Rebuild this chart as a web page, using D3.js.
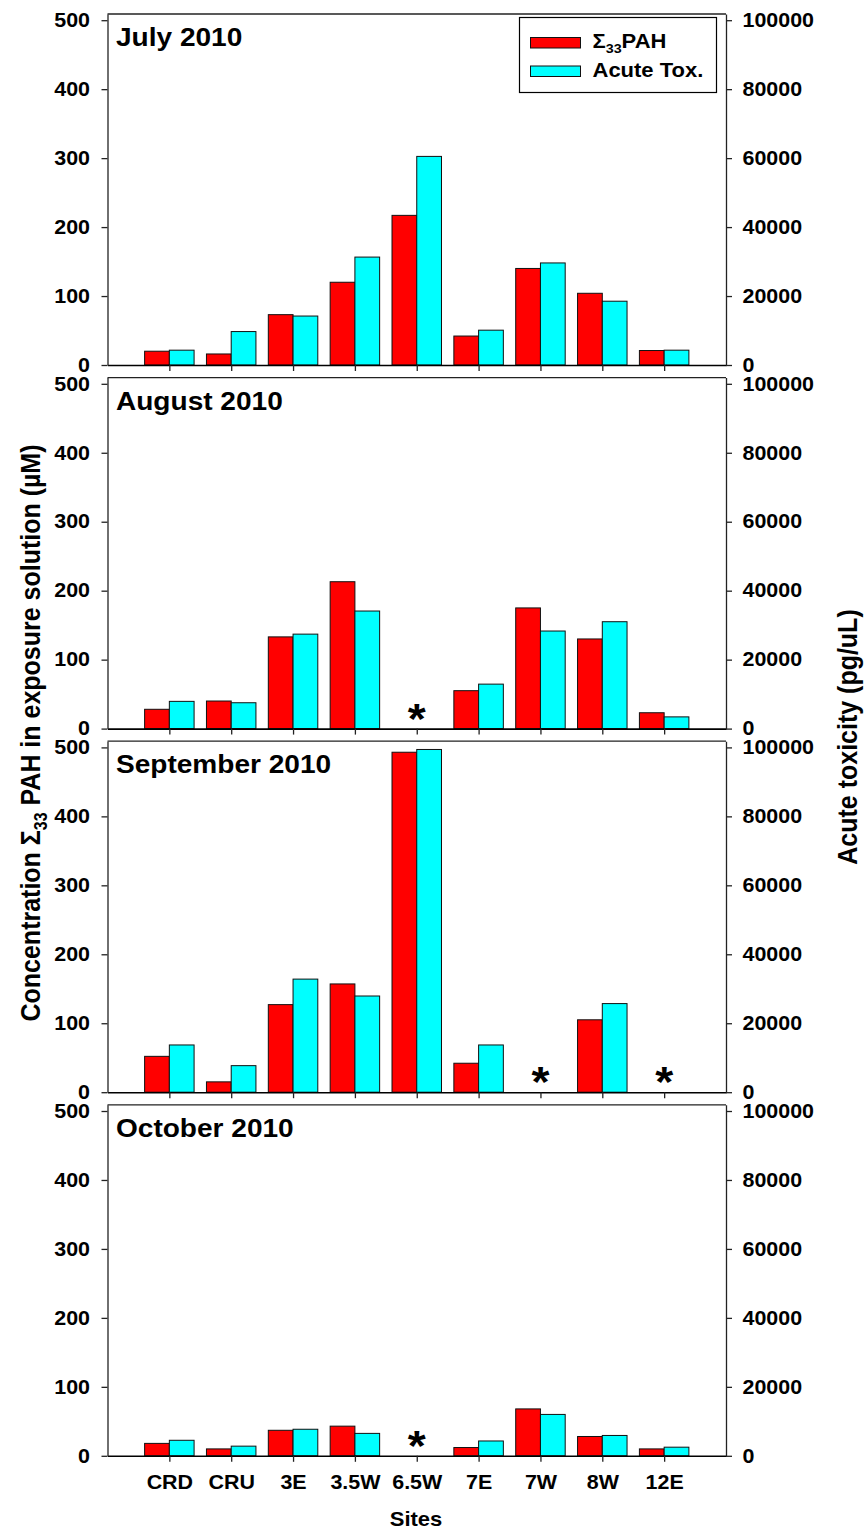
<!DOCTYPE html>
<html>
<head>
<meta charset="utf-8">
<script src="https://cdn.jsdelivr.net/npm/d3@7"></script>
<style>
body { margin: 0; background: #fff; }
text { font-family: "Liberation Sans", Arial, Helvetica, sans-serif; font-weight: bold; fill: #000; }
</style>
</head>
<body>
<div id="chart"></div>
<script>
// data (null = no sample, marked with *)
var sites = ["CRD", "CRU", "3E", "3.5W", "6.5W", "7E", "7W", "8W", "12E"];
var months = ["July 2010", "August 2010", "September 2010", "October 2010"];

var pahJul = [20, 16, 73, 120, 217, 42, 140, 104, 21];
var toxJul = [4300, 9700, 14200, 31300, 60500, 10100, 29600, 18500, 4300];
var pahAug = [28, 40, 133, 213, null, 55, 175, 130, 23];
var toxAug = [7900, 7500, 27400, 34100, null, 12900, 28300, 31000, 3400];
var pahSep = [52, 15, 127, 157, 493, 42, null, 105, null];
var toxSep = [13700, 7700, 32800, 27900, 99400, 13700, null, 25700, null];
var pahOct = [18, 10, 37, 43, null, 12, 68, 28, 10];
var toxOct = [4500, 2800, 7700, 6500, null, 4300, 12000, 5900, 2500];

var leftTicks = [0, 100, 200, 300, 400, 500];
var rightTicks = [0, 20000, 40000, 60000, 80000, 100000];
var seriesNames = ["PAH", "Acute Tox."];
var colors = ["#ff0000", "#00ffff"];

var panels = [
    { title: months[0], pah: pahJul, tox: toxJul },
    { title: months[1], pah: pahAug, tox: toxAug },
    { title: months[2], pah: pahSep, tox: toxSep },
    { title: months[3], pah: pahOct, tox: toxOct }
];

var width = 866, height = 1530;
var plotLeft = 107.5, plotRight = 726;
var panelTop = 14, panelStep = 363.6, panelH = 351;
var stretch = 1.1; // original lettering is a bit wide
var axisColor = "#222";

var svg = d3.select("#chart")
    .append("svg")
    .attr("width", width)
    .attr("height", height);

var x = d3.scaleLinear().domain([0, 10]).range([plotLeft, plotRight]);
var barW = x(0.4) - x(0);

function wide(sel) {
    sel.each(function() {
        var t = d3.select(this);
        var x0 = +t.attr("x") || 0;
        t.attr("x", x0 / stretch).attr("transform", "scale(" + stretch + ",1)");
    });
}

function styleAxis(a) {
    a.attr("font-family", null).attr("font-size", null);
    a.select(".domain").attr("stroke", axisColor).attr("stroke-width", 1.3);
    a.selectAll(".tick line").attr("stroke", axisColor).attr("stroke-width", 1.3);
}

panels.forEach(function(p, i) {
    var top = panelTop + i * panelStep;
    var y = d3.scaleLinear().domain([0, 509]).range([top + panelH, top]);
    var yR = d3.scaleLinear().domain([0, 101800]).range([top + panelH, top]);
    var g = svg.append("g");

    var rows = sites.map(function(s, j) {
        return { site: s, idx: j + 1, pah: p.pah[j], tox: p.tox[j] };
    });

    g.selectAll(".pah")
        .data(rows.filter(function(d) { return d.pah != null; }))
        .enter()
        .append("rect")
        .attr("x", function(d) { return x(d.idx - 0.4); })
        .attr("y", function(d) { return y(d.pah); })
        .attr("width", barW)
        .attr("height", function(d) { return y(0) - y(d.pah); })
        .attr("fill", colors[0])
        .attr("stroke", "#111")
        .attr("stroke-width", 1);

    g.selectAll(".tox")
        .data(rows.filter(function(d) { return d.tox != null; }))
        .enter()
        .append("rect")
        .attr("x", function(d) { return x(d.idx); })
        .attr("y", function(d) { return yR(d.tox); })
        .attr("width", barW)
        .attr("height", function(d) { return yR(0) - yR(d.tox); })
        .attr("fill", colors[1])
        .attr("stroke", "#111")
        .attr("stroke-width", 1);

    // missing samples
    g.selectAll(".miss")
        .data(rows.filter(function(d) { return d.pah == null; }))
        .enter()
        .append("text")
        .attr("x", function(d) { return x(d.idx) / stretch; })
        .attr("y", y(0) + 4)
        .attr("transform", "scale(" + stretch + ",1)")
        .attr("text-anchor", "middle")
        .style("font-size", "42px")
        .text("*");

    // top of the frame
    g.append("line")
        .attr("x1", plotLeft).attr("x2", plotRight)
        .attr("y1", top).attr("y2", top)
        .attr("stroke", axisColor).attr("stroke-width", 1.3);

    var ax = g.append("g")
        .attr("transform", "translate(0," + y(0) + ")")
        .call(d3.axisBottom(x)
            .tickValues(d3.range(1, 10))
            .tickSize(6)
            .tickSizeOuter(0)
            .tickFormat(function(v) { return i == 3 ? sites[v - 1] : ""; }));
    styleAxis(ax);
    ax.select(".domain").attr("stroke", "#000").attr("stroke-width", 1.6);
    ax.selectAll("text").attr("y", 33).attr("dy", null).style("font-size", "19.5px").call(wide);

    var ay = g.append("g")
        .attr("transform", "translate(" + plotLeft + ",0)")
        .call(d3.axisLeft(y).tickValues(leftTicks).tickSize(6).tickSizeOuter(0));
    styleAxis(ay);
    ay.selectAll("text").attr("x", -17.5).style("font-size", "19.5px").call(wide);

    var ar = g.append("g")
        .attr("transform", "translate(" + plotRight + ",0)")
        .call(d3.axisRight(yR).tickValues(rightTicks).tickFormat(d3.format("d"))
            .tickSize(6).tickSizeOuter(0));
    styleAxis(ar);
    ar.selectAll("text").attr("x", 16.5).style("font-size", "19.5px").call(wide);

    g.append("text")
        .attr("x", 116 / stretch)
        .attr("y", top + 32)
        .attr("transform", "scale(" + stretch + ",1)")
        .style("font-size", "25.5px")
        .text(p.title);
});

// legend
var legend = svg.append("g");
legend.append("rect")
    .attr("x", 519.5).attr("y", 17.5)
    .attr("width", 197).attr("height", 75)
    .attr("fill", "#fff").attr("stroke", "#000").attr("stroke-width", 1.2);

seriesNames.forEach(function(name, k) {
    var ly = 37.5 + k * 28.5;
    legend.append("rect")
        .attr("x", 530.5).attr("y", ly)
        .attr("width", 50).attr("height", 10.5)
        .attr("fill", colors[k]).attr("stroke", "#111").attr("stroke-width", 1);
    var t = legend.append("text")
        .attr("x", 592.5 / stretch)
        .attr("y", ly + 11)
        .attr("transform", "scale(" + stretch + ",1)")
        .style("font-size", "20px");
    if (k == 0) {
        t.append("tspan").text("\u03a3");
        t.append("tspan").attr("dy", 5).style("font-size", "13px").text("33");
        t.append("tspan").attr("dy", -5).text(name);
    } else {
        t.text(name);
    }
});

// axis titles
var yt = svg.append("text")
    .attr("transform", "translate(40,733) scale(" + stretch + ",1) rotate(-90)")
    .attr("text-anchor", "middle")
    .style("font-size", "25px");
yt.append("tspan").text("Concentration \u03a3");
yt.append("tspan").attr("dy", 6).style("font-size", "16px").text("33");
yt.append("tspan").attr("dy", -6).text(" PAH in exposure solution (\u00b5M)");

svg.append("text")
    .attr("transform", "translate(857,737) scale(" + stretch + ",1) rotate(-90)")
    .attr("text-anchor", "middle")
    .style("font-size", "25px")
    .text("Acute toxicity (pg/uL)");

svg.append("text")
    .attr("x", 416 / stretch)
    .attr("y", 1526)
    .attr("transform", "scale(" + stretch + ",1)")
    .attr("text-anchor", "middle")
    .style("font-size", "20px")
    .text("Sites");
</script>
</body>
</html>
